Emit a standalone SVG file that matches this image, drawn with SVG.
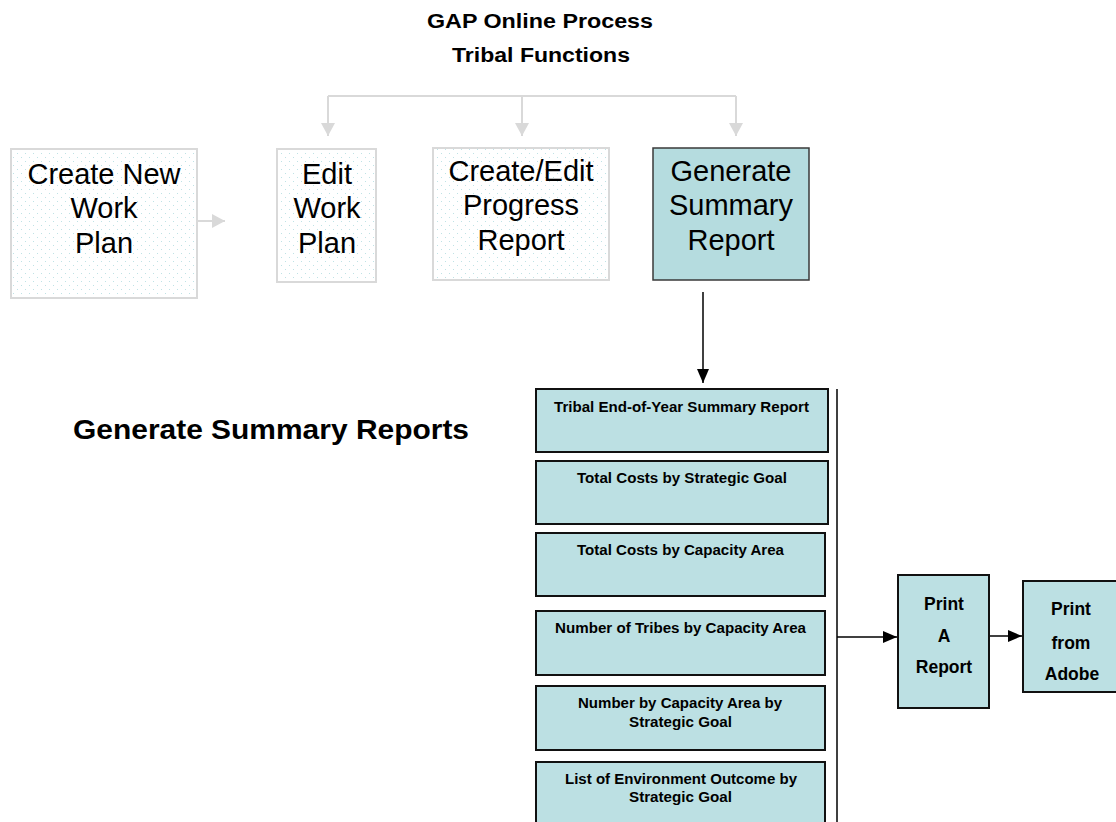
<svg xmlns="http://www.w3.org/2000/svg" width="1116" height="822" viewBox="0 0 1116 822">
<defs>
<style>
.big{font-family:"Liberation Sans",Arial,sans-serif;font-size:29px;fill:#000;text-anchor:middle}
.title{font-family:"Liberation Sans",Arial,sans-serif;font-weight:bold;font-size:20px;fill:#000;text-anchor:middle}
.head{font-family:"Liberation Sans",Arial,sans-serif;font-weight:bold;font-size:28px;fill:#000}
.sm{font-family:"Liberation Sans",Arial,sans-serif;font-weight:bold;font-size:14.5px;fill:#000;text-anchor:middle}
.pr{font-family:"Liberation Sans",Arial,sans-serif;font-weight:bold;font-size:17.5px;fill:#000;text-anchor:middle}
.lite{fill:url(#dots);stroke:#d9d9d9;stroke-width:2}
.gen{fill:#b5dcdf;stroke:#3a3a3a;stroke-width:1.5}
.lb{fill:#bce0e3;stroke:#111;stroke-width:2}
.gc{fill:none;stroke:#d9d9d9;stroke-width:2}
.bc{fill:none;stroke:#000;stroke-width:1.5}
</style>
<pattern id="dots" width="8" height="8" patternUnits="userSpaceOnUse">
<rect width="8" height="8" fill="#fff"/>
<rect x="1" y="1" width="1" height="1" fill="#bfe2e5"/>
<rect x="5" y="5" width="1" height="1" fill="#bfe2e5"/>
</pattern>
<marker id="ga" markerWidth="14" markerHeight="14" refX="13" refY="7" orient="auto" markerUnits="userSpaceOnUse">
<path d="M0,0 L13,7 L0,14 Z" fill="#d9d9d9"/>
</marker>
<marker id="ba" markerWidth="14" markerHeight="12" refX="14" refY="6" orient="auto" markerUnits="userSpaceOnUse">
<path d="M0,0 L14,6 L0,12 Z" fill="#000"/>
</marker>
</defs>
<rect width="1116" height="822" fill="#fff"/>

<g id="title">
<text class="title" x="540" y="28" textLength="226" lengthAdjust="spacingAndGlyphs">GAP Online Process</text>
<text class="title" x="541" y="62" textLength="178" lengthAdjust="spacingAndGlyphs">Tribal Functions</text>
</g>

<g id="connectors">
<path class="gc" d="M328,96 H736"/>
<path class="gc" d="M328,96 V136" marker-end="url(#ga)"/>
<path class="gc" d="M522,96 V136" marker-end="url(#ga)"/>
<path class="gc" d="M736,96 V136" marker-end="url(#ga)"/>
<path class="gc" d="M197,221 H225" marker-end="url(#ga)"/>
<path class="bc" d="M703,292 V383" marker-end="url(#ba)"/>
<path class="bc" d="M837,389 V822"/>
<path class="bc" d="M837,637 H897" marker-end="url(#ba)"/>
<path class="bc" d="M985,636 H1022" marker-end="url(#ba)"/>
</g>

<g id="create-new-work-plan">
<rect class="lite" x="11" y="149" width="186" height="149"/>
<text class="big" x="104" y="184">Create New</text>
<text class="big" x="104" y="218">Work</text>
<text class="big" x="104" y="253">Plan</text>
</g>
<g id="edit-work-plan">
<rect class="lite" x="277" y="149" width="99" height="133"/>
<text class="big" x="327" y="184">Edit</text>
<text class="big" x="327" y="218">Work</text>
<text class="big" x="327" y="253">Plan</text>
</g>
<g id="create-edit-progress-report">
<rect class="lite" x="433" y="148" width="176" height="132"/>
<text class="big" x="521" y="181">Create/Edit</text>
<text class="big" x="521" y="215">Progress</text>
<text class="big" x="521" y="250">Report</text>
</g>
<g id="generate-summary-report">
<rect class="gen" x="653" y="148" width="156" height="132"/>
<text class="big" x="731" y="181">Generate</text>
<text class="big" x="731" y="215">Summary</text>
<text class="big" x="731" y="250">Report</text>
</g>

<g id="heading">
<text class="head" x="73" y="439" textLength="396" lengthAdjust="spacingAndGlyphs">Generate Summary Reports</text>
</g>

<g id="r1">
<rect class="lb" x="536" y="389" width="292" height="63"/>
<text class="sm" x="681.5" y="412" textLength="255" lengthAdjust="spacingAndGlyphs">Tribal End-of-Year Summary Report</text>
</g>
<g id="r2">
<rect class="lb" x="536" y="461" width="292" height="63"/>
<text class="sm" x="682" y="483" textLength="210" lengthAdjust="spacingAndGlyphs">Total Costs by Strategic Goal</text>
</g>
<g id="r3">
<rect class="lb" x="536" y="533" width="289" height="63"/>
<text class="sm" x="680.5" y="555" textLength="207" lengthAdjust="spacingAndGlyphs">Total Costs by Capacity Area</text>
</g>
<g id="r4">
<rect class="lb" x="536" y="611" width="289" height="64"/>
<text class="sm" x="680.5" y="633" textLength="251" lengthAdjust="spacingAndGlyphs">Number of Tribes by Capacity Area</text>
</g>
<g id="r5">
<rect class="lb" x="536" y="686" width="289" height="64"/>
<text class="sm" x="680" y="708" textLength="204" lengthAdjust="spacingAndGlyphs">Number by Capacity Area by</text>
<text class="sm" x="680.5" y="727" textLength="103" lengthAdjust="spacingAndGlyphs">Strategic Goal</text>
</g>
<g id="r6">
<rect class="lb" x="536" y="762" width="289" height="80"/>
<text class="sm" x="681" y="784" textLength="232" lengthAdjust="spacingAndGlyphs">List of Environment Outcome by</text>
<text class="sm" x="680.5" y="802" textLength="103" lengthAdjust="spacingAndGlyphs">Strategic Goal</text>
</g>

<g id="print-a-report">
<rect class="lb" x="898" y="575" width="91" height="133" stroke-width="1.5"/>
<text class="pr" x="944" y="610">Print</text>
<text class="pr" x="944" y="642">A</text>
<text class="pr" x="944" y="673">Report</text>
</g>
<g id="print-from-adobe">
<rect class="lb" x="1023" y="581" width="100" height="111" stroke-width="1.5"/>
<text class="pr" x="1071" y="615">Print</text>
<text class="pr" x="1071" y="649">from</text>
<text class="pr" x="1072" y="680">Adobe</text>
</g>
</svg>
